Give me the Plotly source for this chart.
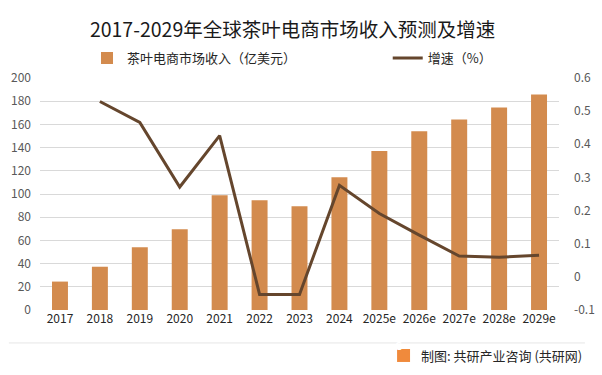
import plotly.graph_objects as go

years = ["2017", "2018", "2019", "2020", "2021", "2022", "2023", "2024",
         "2025e", "2026e", "2027e", "2028e", "2029e"]
revenue = [24.5, 37.3, 54.2, 69.7, 99.0, 94.6, 89.5, 114.4, 137.0, 154.0, 164.3, 174.6, 185.8]
growth_years = years[1:]
growth = [0.529, 0.466, 0.271, 0.426, -0.053, -0.053, 0.276, 0.191, 0.126, 0.063, 0.059, 0.065]

left_ticks = list(range(0, 201, 20))
right_ticks = [-0.1, 0, 0.1, 0.2, 0.3, 0.4, 0.5, 0.6]
right_labels = ["-0.1", "0", "0.1", "0.2", "0.3", "0.4", "0.5", "0.6"]

FONT = "Noto Sans CJK SC"
BAR = "#D38B4E"
LINE = "#65462D"

fig = go.Figure()
fig.add_trace(go.Bar(x=years, y=revenue, name="茶叶电商市场收入（亿美元）",
                     marker=dict(color=BAR, line=dict(width=0)), yaxis="y", legend="legend"))
fig.add_trace(go.Scatter(x=growth_years, y=growth, name="增速（%）", mode="lines",
                         line=dict(color=LINE, width=3), yaxis="y2", legend="legend2"))

legend_common = dict(orientation="h", yanchor="middle", xanchor="left",
                     font=dict(family=FONT, size=13, color="#262626"),
                     bgcolor="rgba(0,0,0,0)", borderwidth=0)

fig.update_layout(
    width=602, height=375,
    margin=dict(l=40, r=43, t=78, b=65, autoexpand=False),
    paper_bgcolor="white", plot_bgcolor="white",
    font=dict(family=FONT, size=12, color="#595959"),
    title=dict(text="2017-2029年全球茶叶电商市场收入预测及增速", x=0.486, xanchor="center",
               y=0.92, yanchor="middle", font=dict(family=FONT, size=19.5, color="#1a1a1a")),
    bargap=0.6,
    showlegend=True,
    legend=dict(x=0.0906, y=1.086, **legend_common),
    legend2=dict(x=0.670, y=1.086, **legend_common),
    xaxis=dict(type="category", showgrid=False, showline=False, ticks="",
               tickfont=dict(size=12, color="#262626")),
    yaxis=dict(range=[0, 200], tickvals=left_ticks, showgrid=True, gridcolor="#D9D9D9",
               gridwidth=1, zeroline=False, showline=False, ticks="", ticklabelstandoff=8,
               tickfont=dict(size=12, color="#595959")),
    yaxis2=dict(range=[-0.1, 0.6], tickvals=right_ticks, ticktext=right_labels,
                overlaying="y", side="right", showgrid=False, zeroline=False,
                showline=False, ticks="", ticklabelstandoff=14,
                tickfont=dict(size=12, color="#595959")),
)

# separator line and source note
fig.add_shape(type="line", xref="paper", yref="paper", x0=-0.06, x1=1.05,
              y0=-0.142, y1=-0.142, line=dict(color="#E6E6E6", width=1))
fig.add_shape(type="rect", xref="paper", yref="paper", x0=0.688, x1=0.713,
              y0=-0.224, y1=-0.168, fillcolor="#F08A3C", line=dict(width=0))
fig.add_annotation(x=0.7005, y=-0.196, xref="paper", yref="paper", text="<b>G</b>",
                   showarrow=False, font=dict(family=FONT, size=10, color="white"))
fig.add_annotation(x=1.048, y=-0.194, xref="paper", yref="paper", xanchor="right",
                   yanchor="middle", text="制图: 共研产业咨询 (共研网)", showarrow=False,
                   font=dict(family=FONT, size=13, color="#262626"))

fig.write_html("out.html", config={"displayModeBar": False},
               post_script="document.body.style.margin='0';")
